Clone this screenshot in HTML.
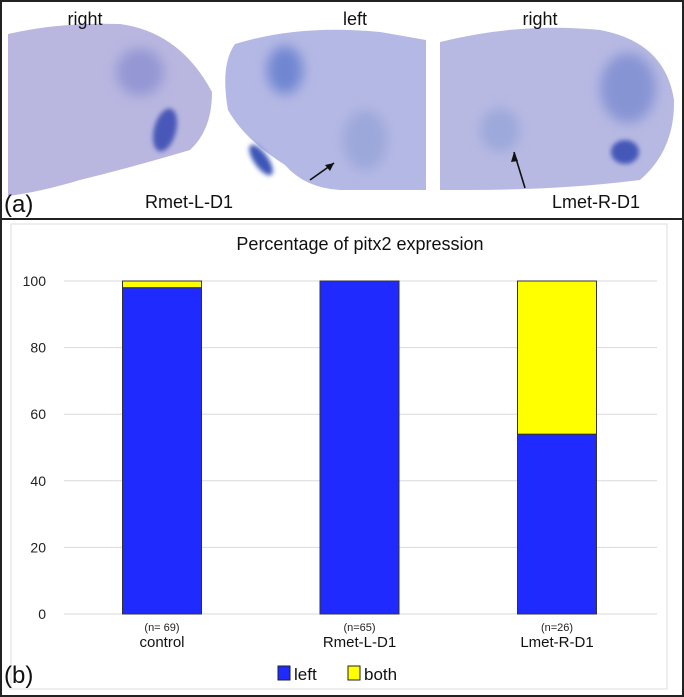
<!DOCTYPE html>
<html><head><meta charset="utf-8"><style>
body{margin:0;background:#fff;font-family:"Liberation Sans",sans-serif}
svg{display:block}
</style></head><body>
<svg width="684" height="697" viewBox="0 0 684 697">
<defs>
<filter id="bl" x="-50%" y="-50%" width="200%" height="200%"><feGaussianBlur stdDeviation="6"/></filter>
<filter id="bl2" x="-50%" y="-50%" width="200%" height="200%"><feGaussianBlur stdDeviation="2.5"/></filter>
<clipPath id="pa"><rect x="2" y="2" width="680" height="216"/></clipPath>
</defs>
<rect x="1" y="1" width="682" height="695" fill="#fff" stroke="#222" stroke-width="2"/>
<g clip-path="url(#pa)">
 <path d="M8,34 Q60,22 120,24 Q180,32 212,92 Q212,130 190,150 Q140,165 80,180 Q40,192 8,196 Z" fill="#b9b7e0"/>
 <ellipse cx="140" cy="72" rx="24" ry="24" fill="#9497d4" filter="url(#bl)"/>
 <ellipse cx="165" cy="130" rx="11" ry="22" fill="#4a58b8" filter="url(#bl2)" transform="rotate(15 165 130)"/>
 <path d="M235,44 Q300,24 380,32 L426,40 L426,190 L340,190 Q305,188 285,165 Q245,140 228,110 Q220,65 235,44 Z" fill="#b4b8e4"/>
 <ellipse cx="285" cy="70" rx="18" ry="24" fill="#7186d2" filter="url(#bl)"/>
 <ellipse cx="261" cy="160" rx="7" ry="18" fill="#3c56b8" filter="url(#bl2)" transform="rotate(-35 261 160)"/>
 <ellipse cx="365" cy="140" rx="22" ry="30" fill="#9ca8da" filter="url(#bl)"/>
 <path d="M440,42 Q520,22 600,30 Q665,42 674,100 Q675,150 640,180 Q560,190 470,190 L440,190 Z" fill="#b7b9e2"/>
 <ellipse cx="628" cy="88" rx="28" ry="35" fill="#8794d4" filter="url(#bl)"/>
 <ellipse cx="625" cy="152" rx="14" ry="12" fill="#4458b8" filter="url(#bl2)"/>
 <ellipse cx="500" cy="130" rx="20" ry="22" fill="#9ca9da" filter="url(#bl)"/>
 <line x1="310" y1="180" x2="334" y2="163" stroke="#111" stroke-width="1.6"/>
 <path d="M334,163 L325,165 L330,171 Z" fill="#111"/>
 <line x1="525" y1="188" x2="514" y2="152" stroke="#111" stroke-width="1.6"/>
 <path d="M514,152 L511,162 L518,161 Z" fill="#111"/>
 <text x="85" y="25" font-size="18" text-anchor="middle" fill="#111">right</text>
 <text x="355" y="25" font-size="18" text-anchor="middle" fill="#111">left</text>
 <text x="540" y="25" font-size="18" text-anchor="middle" fill="#111">right</text>
 <text x="145" y="208" font-size="18" fill="#111">Rmet-L-D1</text>
 <text x="552" y="208" font-size="18" fill="#111">Lmet-R-D1</text>
 <text x="4" y="212" font-size="24" fill="#111">(a)</text>
</g>
<line x1="1" y1="219" x2="683" y2="219" stroke="#222" stroke-width="2"/>
<rect x="11" y="224" width="656" height="465" fill="#fff" stroke="#ddd" stroke-width="1"/>
<text x="360" y="250" font-size="18" text-anchor="middle" fill="#111">Percentage of pitx2 expression</text>
<g id="chart"></g>
<text x="4" y="683" font-size="24" fill="#111">(b)</text>
<g>
 <rect x="278" y="666" width="12" height="14" fill="#1f2aff" stroke="#222"/>
 <text x="294" y="680" font-size="17" fill="#111">left</text>
 <rect x="348" y="666" width="12" height="14" fill="#ffff00" stroke="#222"/>
 <text x="364" y="680" font-size="17" fill="#111">both</text>
</g>
</svg>
<script>
const categories=["control","Rmet-L-D1","Lmet-R-D1"];
const nLabels=["(n= 69)","(n=65)","(n=26)"];
const leftValues=[98,100,54];
const bothValues=[2,0,46];
const yTicks=[0,20,40,60,80,100];
const NS="http://www.w3.org/2000/svg";
const g=document.getElementById('chart');
const y=v=>614-v*3.33;
const xc=i=>162+i*197.5;
const bw=79;
function mk(t,a){const e=document.createElementNS(NS,t);for(const k in a)e.setAttribute(k,a[k]);g.appendChild(e);return e;}
yTicks.forEach(t=>{
 const l=mk('line',{x1:64,x2:657,y1:y(t),y2:y(t),stroke:'#d9d9d9','stroke-width':1});
 
 
 const tx=mk('text',{x:46,y:y(t)+5,'font-size':14,'text-anchor':'end',fill:'#222'});
 tx.textContent=t;
 
 
});
categories.forEach((c,i)=>{
 const b1=mk('rect',{x:xc(i)-bw/2,y:y(leftValues[i]),width:bw,height:leftValues[i]*3.33,fill:'#1f2aff',stroke:'#333','stroke-width':1});
 
 
 if(bothValues[i]>0){
  const b2=mk('rect',{x:xc(i)-bw/2,y:y(leftValues[i]+bothValues[i]),width:bw,height:bothValues[i]*3.33,fill:'#ffff00',stroke:'#333','stroke-width':1});
  
  
 }
 const n=mk('text',{x:xc(i),y:631,'font-size':11,'text-anchor':'middle',fill:'#222'});
 n.textContent=nLabels[i];
 
 
 const cl=mk('text',{x:xc(i),y:647,'font-size':15,'text-anchor':'middle',fill:'#111'});
 cl.textContent=c;
 
 
});
</script>
</body></html>
